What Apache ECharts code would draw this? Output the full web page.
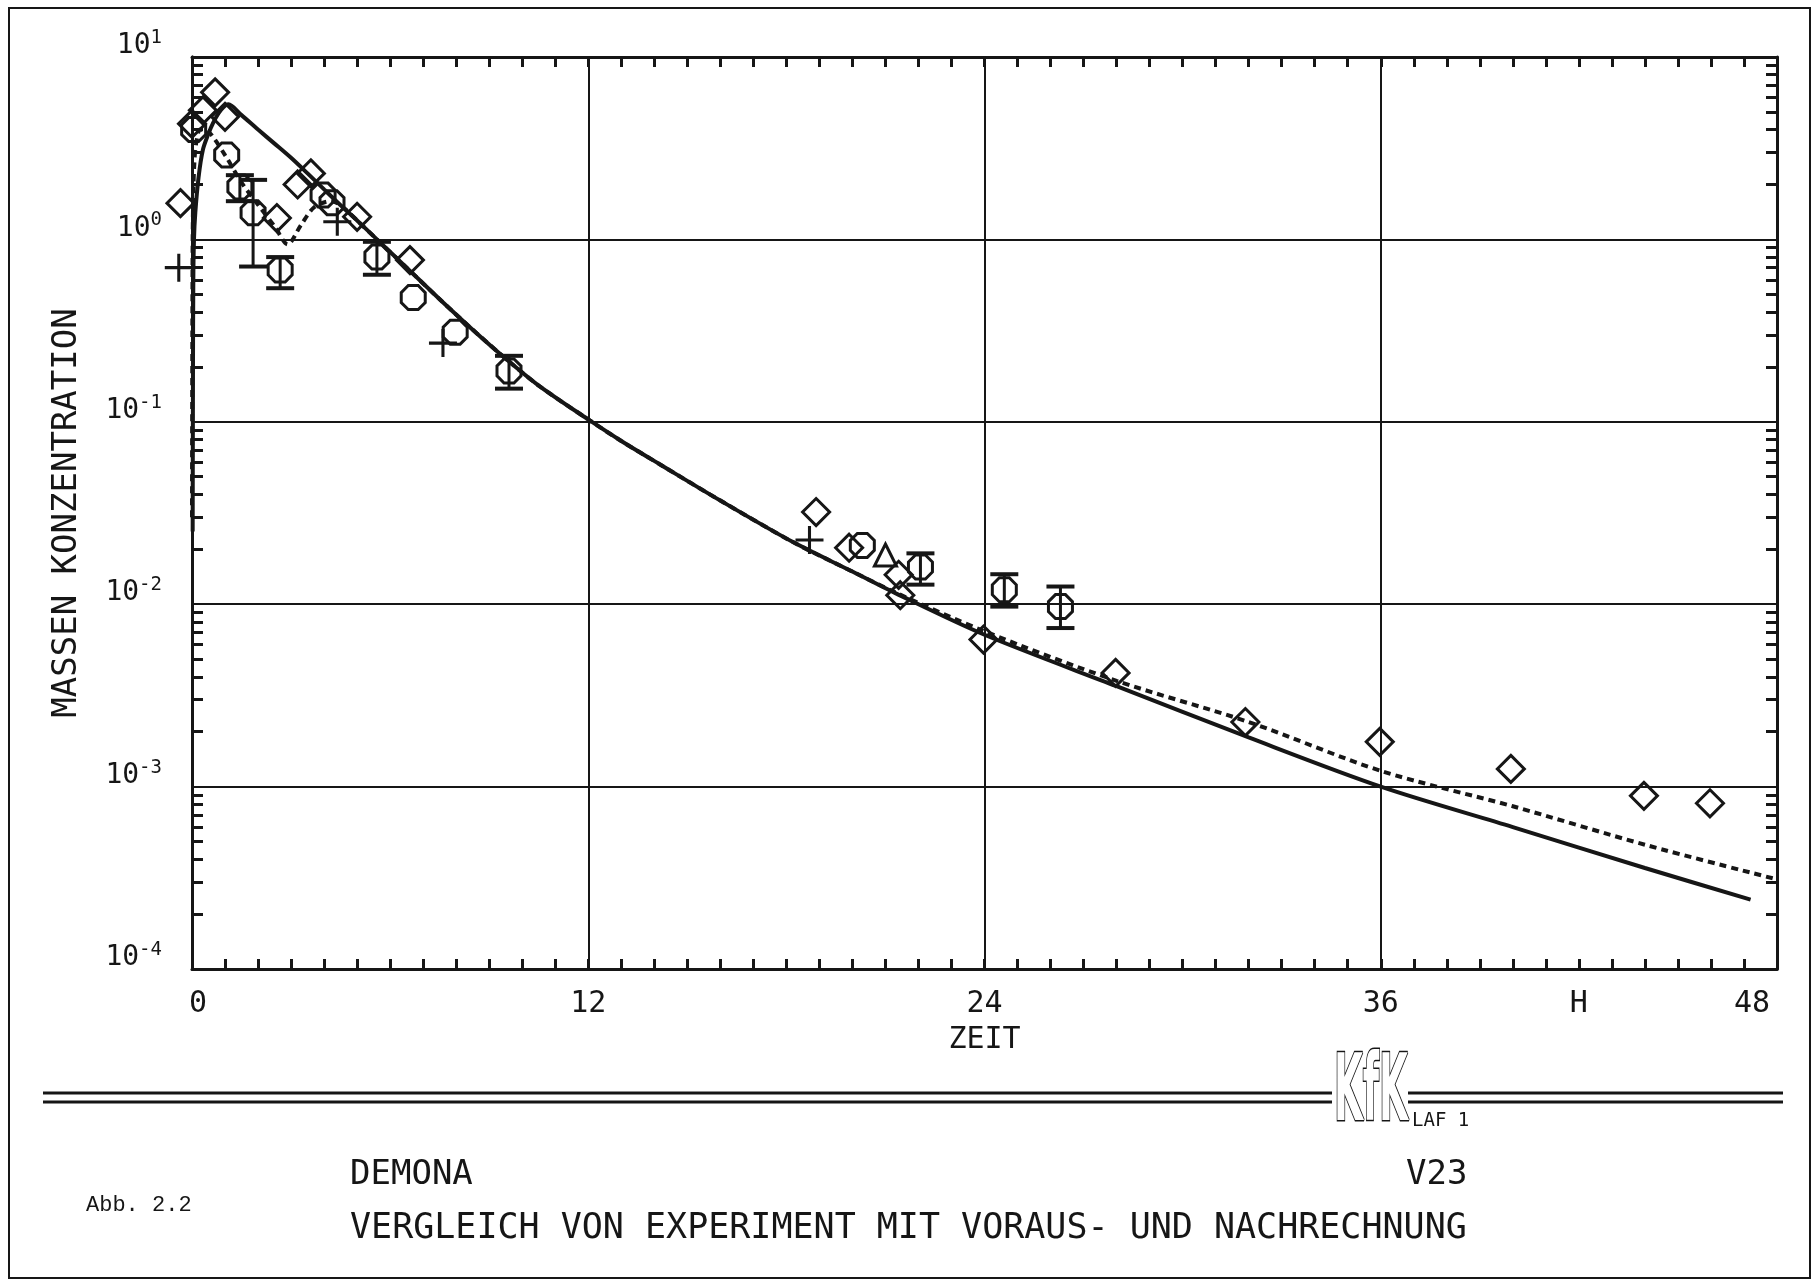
<!DOCTYPE html>
<html>
<head>
<meta charset="utf-8">
<script src="https://cdn.jsdelivr.net/npm/echarts@6/dist/echarts.min.js"></script>
<style>html,body{margin:0;padding:0;background:#fff}#c{width:1814px;height:1284px}</style>
</head>
<body>
<div id="c"></div>
<script>
// ---- data ----
const xTickValues = [0, 12, 24, 36, 42, 48];
const xTickLabels = ['0', '12', '24', '36', 'H', '48'];
const yDecades = [1e-4, 1e-3, 1e-2, 1e-1, 1e0, 1e1];
const yTickLabels = ['-4', '-3', '-2', '-1', '0', '1'];

// Nachrechnung (solid)
const solidLine = [[0.02,0.025],[0.03,0.2],[0.04,0.6],[0.06,1.0],[0.1,1.4],[0.2,2.2],[0.33,3.1],[0.5,3.8],[0.64,4.35],[0.8,4.9],[0.95,5.3],[1.1,5.5],[1.5,4.8],[2.0,4.0],[2.5,3.35],[3.0,2.8],[3.5,2.3],[4.0,1.88],[4.5,1.54],[5.0,1.27],[5.6,1.0],[6.5,0.70],[7.5,0.47],[8.5,0.32],[9.5,0.222],[10.5,0.158],[12.0,0.103],[13.0,0.0785],[14.2,0.058],[16.0,0.037],[18.2,0.0219],[20.0,0.0151],[21.3,0.0115],[24.0,0.0068],[28.0,0.00355],[32.0,0.00186],[36.0,0.001],[40.0,0.0006],[44.0,0.000358],[47.2,0.00024]];
// Vorausrechnung (dashed)
const dashedLine = [[0.0,0.03],[0.01,0.3],[0.02,1.0],[0.04,1.8],[0.07,2.6],[0.12,3.3],[0.25,4.0],[0.5,3.9],[1.0,2.9],[1.5,2.05],[2.0,1.55],[2.5,1.18],[2.9,0.94],[3.3,1.2],[3.7,1.5],[4.2,1.62],[4.5,1.54],[5.0,1.27],[5.6,1.0],[6.5,0.70],[7.5,0.47],[8.5,0.32],[9.5,0.222],[10.5,0.158],[12.0,0.103],[13.0,0.0785],[14.2,0.058],[16.0,0.037],[18.2,0.0219],[20.0,0.0151],[21.3,0.0116],[24.0,0.0071],[28.0,0.0038],[32.0,0.00226],[36.0,0.00122],[40.0,0.00078],[44.0,0.00048],[48.0,0.00031]];

// experiment markers
const diamondPts = [[-0.35,1.58],[0.0,4.3],[0.33,5.1],[0.7,6.4],[1.0,4.7],[2.57,1.31],[3.2,2.0],[3.6,2.3],[5.0,1.33],[6.6,0.77],[18.9,0.032],[19.9,0.0204],[21.4,0.0145],[21.45,0.0112],[23.97,0.0064],[27.97,0.0042],[31.9,0.00226],[35.97,0.00176],[39.94,0.00125],[43.97,0.00089],[45.97,0.00081]];
const octagonPts = [[0.05,4.0],[1.05,2.9],[3.97,1.75],[4.24,1.59],[6.7,0.48],[7.97,0.31],[20.3,0.021]];
const plusPts = [[-0.4,0.70],[4.4,1.25],[7.6,0.27],[18.7,0.0225]];
const trianglePts = [[21.0,0.0186]];
// [x, y, low, high]
const errPts = [[1.45,1.94,1.62,2.25],[1.85,1.40,0.71,2.12],[2.67,0.68,0.54,0.80],[5.6,0.80,0.64,0.97],[9.6,0.19,0.152,0.23],[22.06,0.016,0.0128,0.019],[24.6,0.012,0.0097,0.0146],[26.3,0.0097,0.0074,0.0125]];

// ---- chart ----
const INK = '#161616';
const MONO = 'DejaVu Sans Mono';
const minorVals = [];
for (let e = -4; e < 1; e++) for (let m = 2; m <= 9; m++) minorVals.push(+(m * Math.pow(10, e)).toPrecision(3));

const octagon = 'path://M-0.414,-1L0.414,-1L1,-0.414L1,0.414L0.414,1L-0.414,1L-1,0.414L-1,-0.414Z';
const plus = 'path://M-0.11,-1L0.11,-1L0.11,-0.11L1,-0.11L1,0.11L0.11,0.11L0.11,1L-0.11,1L-0.11,0.11L-1,0.11L-1,-0.11L-0.11,-0.11Z';
const hollow = {color: 'rgba(0,0,0,0)', borderColor: INK, borderWidth: 3, opacity: 1};

const chart = echarts.init(document.getElementById('c'), null, {renderer: 'canvas'});
chart.setOption({
  backgroundColor: '#fff',
  animation: false,
  grid: {left: 192, right: 37, top: 57, bottom: 315, containLabel: false},
  xAxis: [{
    type: 'value', min: 0, max: 48, interval: 12, position: 'bottom',
    axisLine: {lineStyle: {color: INK, width: 3}},
    axisTick: {show: true, inside: true, length: 10, lineStyle: {color: INK, width: 3}},
    minorTick: {show: true, splitNumber: 12, length: 10, lineStyle: {color: INK, width: 3}},
    splitLine: {show: true, lineStyle: {color: INK, width: 2}},
    axisLabel: {
      customValues: xTickValues,
      margin: 20, color: INK, fontFamily: MONO, fontSize: 30,
      formatter: function (v) {
        const i = xTickValues.indexOf(v);
        const t = xTickLabels[i];
        if (i === 0) return '{z|' + t + '}';
        if (i === xTickValues.length - 1) return '{r|' + t + '}';
        return t;
      },
      rich: {
        z: {fontFamily: MONO, fontSize: 30, color: INK, padding: [0, 0, 0, 12]},
        r: {fontFamily: MONO, fontSize: 30, color: INK, padding: [0, 50, 0, 0]}
      }
    },
    name: 'ZEIT', nameLocation: 'middle', nameGap: 56,
    nameTextStyle: {color: INK, fontFamily: MONO, fontSize: 30}
  }, {
    type: 'value', min: 0, max: 48, interval: 12, position: 'top',
    axisLine: {show: true, lineStyle: {color: INK, width: 3}},
    axisTick: {show: true, inside: true, length: 10, lineStyle: {color: INK, width: 3}},
    minorTick: {show: true, splitNumber: 12, length: 10, lineStyle: {color: INK, width: 3}},
    splitLine: {show: false}, axisLabel: {show: false}
  }],
  yAxis: [{
    type: 'log', logBase: 10, min: 1e-4, max: 10, position: 'left',
    axisLine: {show: true, lineStyle: {color: INK, width: 3}},
    axisTick: {show: false},
    splitLine: {show: true, lineStyle: {color: INK, width: 2}},
    axisLabel: {
      margin: 30, padding: [0, 0, 22, 0], color: INK,
      formatter: function (v) {
        const e = Math.round(Math.log10(v));
        const i = yDecades.findIndex(d => Math.abs(Math.log10(d) - e) < 0.01);
        return '{b|10}{s|' + yTickLabels[i] + '}';
      },
      rich: {
        b: {fontFamily: MONO, fontSize: 28, color: INK},
        s: {fontFamily: MONO, fontSize: 19, color: INK, padding: [0, 0, 16, 0]}
      }
    },
    name: 'MASSEN KONZENTRATION', nameLocation: 'middle', nameGap: 108,
    nameTextStyle: {color: INK, fontFamily: MONO, fontSize: 34}
  }, {
    type: 'log', logBase: 10, min: 1e-4, max: 10, position: 'left',
    axisLine: {show: true, lineStyle: {color: INK, width: 3}},
    axisTick: {show: true, inside: true, length: 11, customValues: minorVals, lineStyle: {color: INK, width: 3}},
    splitLine: {show: false}, axisLabel: {show: false}
  }, {
    type: 'log', logBase: 10, min: 1e-4, max: 10, position: 'right',
    axisLine: {show: true, lineStyle: {color: INK, width: 3}},
    axisTick: {show: true, inside: true, length: 11, customValues: minorVals, lineStyle: {color: INK, width: 3}},
    splitLine: {show: false}, axisLabel: {show: false}
  }],
  series: [{
    name: 'Nachrechnung', type: 'line', data: solidLine, smooth: 0.3,
    showSymbol: false, clip: true,
    lineStyle: {color: INK, width: 4}
  }, {
    name: 'Vorausrechnung', type: 'line', data: dashedLine, smooth: 0.3,
    showSymbol: false, clip: true,
    lineStyle: {color: INK, width: 4, type: [7, 5]}
  }, {
    type: 'scatter', data: diamondPts, symbol: 'diamond', symbolSize: 27,
    clip: false, itemStyle: hollow
  }, {
    type: 'scatter', data: octagonPts, symbol: octagon, symbolSize: 24,
    clip: false, itemStyle: hollow
  }, {
    type: 'scatter', data: trianglePts, symbol: 'triangle', symbolSize: 22,
    clip: false, itemStyle: hollow
  }, {
    type: 'scatter', data: plusPts, symbol: plus, symbolSize: 28,
    clip: false, itemStyle: {color: INK, opacity: 1}
  }, {
    type: 'scatter', data: errPts.map(p => [p[0], p[1]]), symbol: octagon, symbolSize: 24,
    clip: false, itemStyle: hollow
  }, {
    type: 'custom', data: errPts, clip: false,
    encode: {x: 0, y: [1, 2, 3]},
    renderItem: function (params, api) {
      const x = api.value(0);
      const top = api.coord([x, api.value(3)]);
      const bot = api.coord([x, api.value(2)]);
      const w = 14;
      const st = {stroke: INK, lineWidth: 4};
      return {type: 'group', children: [
        {type: 'line', shape: {x1: top[0], y1: top[1], x2: bot[0], y2: bot[1]}, style: {stroke: INK, lineWidth: 3}},
        {type: 'line', shape: {x1: top[0] - w, y1: top[1], x2: top[0] + w, y2: top[1]}, style: st},
        {type: 'line', shape: {x1: bot[0] - w, y1: bot[1], x2: bot[0] + w, y2: bot[1]}, style: st}
      ]};
    }
  }],
  graphic: [
    {type: 'rect', shape: {x: 9, y: 8, width: 1801, height: 1270}, style: {fill: 'none', stroke: INK, lineWidth: 2}, silent: true},
    {type: 'line', shape: {x1: 43, y1: 1093, x2: 1332, y2: 1093}, style: {stroke: INK, lineWidth: 3}},
    {type: 'line', shape: {x1: 43, y1: 1102, x2: 1332, y2: 1102}, style: {stroke: INK, lineWidth: 3}},
    {type: 'line', shape: {x1: 1408, y1: 1093, x2: 1783, y2: 1093}, style: {stroke: INK, lineWidth: 3}},
    {type: 'line', shape: {x1: 1408, y1: 1102, x2: 1783, y2: 1102}, style: {stroke: INK, lineWidth: 3}},
    {type: 'text', x: 1334, y: 1096, scaleX: 0.45, style: {text: 'KfK', fontFamily: 'DejaVu Sans Condensed', fontWeight: 'bold', fontSize: 92, fill: '#fff', stroke: INK, lineWidth: 3, verticalAlign: 'middle', align: 'left'}},
    {type: 'text', x: 1412, y: 1121, style: {text: 'LAF 1', fontFamily: MONO, fontSize: 19, fill: INK, verticalAlign: 'middle'}},
    {type: 'text', x: 350, y: 1175, style: {text: 'DEMONA', fontFamily: MONO, fontSize: 34, fill: INK, verticalAlign: 'middle'}},
    {type: 'text', x: 1406, y: 1175, style: {text: 'V23', fontFamily: MONO, fontSize: 34, fill: INK, verticalAlign: 'middle'}},
    {type: 'text', x: 86, y: 1205, style: {text: 'Abb. 2.2', fontFamily: 'Liberation Mono', fontSize: 22, fill: INK, verticalAlign: 'middle'}},
    {type: 'text', x: 350, y: 1229, style: {text: 'VERGLEICH VON EXPERIMENT MIT VORAUS- UND NACHRECHNUNG', fontFamily: MONO, fontSize: 35, fill: INK, verticalAlign: 'middle'}}
  ]
});
</script>
</body>
</html>
